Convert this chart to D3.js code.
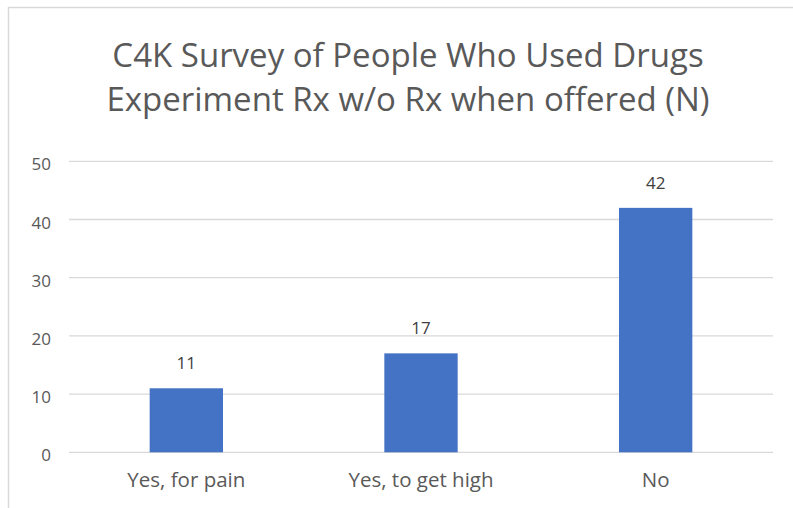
<!DOCTYPE html>
<html><head><meta charset="utf-8">
<script src="https://cdn.jsdelivr.net/npm/d3@7"></script>
<style>
html,body{margin:0;padding:0;background:#fff;}
svg{display:block;}
text{font-family:"Open Sans","Noto Sans",sans-serif;}
</style></head>
<body>
<svg id="chart" width="793" height="508"></svg>
<script>
const titleLines = ["C4K Survey of People Who Used Drugs", "Experiment Rx w/o Rx when offered (N)"];
const categories = ["Yes, for pain", "Yes, to get high", "No"];
const values = [11, 17, 42];
const yTicks = [0, 10, 20, 30, 40, 50];

(function () {
const svg = d3.select("#chart");
svg.append("rect").attr("x", 0).attr("y", 0).attr("width", 793).attr("height", 508).attr("fill", "#fff");
svg.append("rect").attr("x", 8.5).attr("y", 7.5).attr("width", 800).attr("height", 520)
  .attr("fill", "none").attr("stroke", "#d9d9d9").attr("stroke-width", 1.5);

const pLeft = 69, pRight = 773, pTop = 161.3, pBottom = 452.3;
const x = d3.scaleBand().domain(categories).range([pLeft, pRight]).paddingInner(0.6875).paddingOuter(0.34375);
const y = d3.scaleLinear().domain([0, 50]).range([pBottom, pTop]);

// title
const t = svg.append("text").attr("text-anchor", "middle").attr("fill", "#595959").style("font-size", "33px");
titleLines.forEach((l, i) => t.append("tspan").attr("x", 408).attr("y", 67 + i * 44).text(l));

// gridlines
svg.append("g").selectAll("line").data(yTicks).join("line")
  .attr("x1", pLeft).attr("x2", pRight)
  .attr("y1", d => y(d)).attr("y2", d => y(d))
  .attr("stroke", "#d9d9d9").attr("stroke-width", 1.3);

// y axis labels
const yAxis = d3.axisLeft(y).tickValues(yTicks).tickSize(0).tickPadding(0);
const ya = svg.append("g").attr("transform", `translate(51,0)`).call(yAxis);
ya.select(".domain").remove();
ya.selectAll("text").attr("fill", "#595959").style("font-size", "17px")
  .style("font-family", '"Open Sans","Noto Sans",sans-serif').attr("dy", "0.5em");

// bars
svg.append("g").selectAll("rect").data(values).join("rect")
  .attr("x", (d, i) => x(categories[i]))
  .attr("width", x.bandwidth())
  .attr("y", d => y(d))
  .attr("height", d => y(0) - y(d))
  .attr("fill", "#4472C4");

// data labels
svg.append("g").selectAll("text").data(values).join("text")
  .attr("x", (d, i) => x(categories[i]) + x.bandwidth() / 2)
  .attr("y", d => y(d) - 19)
  .attr("text-anchor", "middle").attr("fill", "#404040").style("font-size", "17px")
  .text(d => d);

// x axis labels
const xAxis = d3.axisBottom(x).tickSize(0).tickPadding(0);
const xa = svg.append("g").attr("transform", `translate(0,${pBottom})`).call(xAxis);
xa.select(".domain").remove();
xa.selectAll("text").attr("fill", "#595959").style("font-size", "20.5px")
  .style("font-family", '"Open Sans","Noto Sans",sans-serif').attr("dy", null).attr("y", 35);
})();
</script>
</body></html>
